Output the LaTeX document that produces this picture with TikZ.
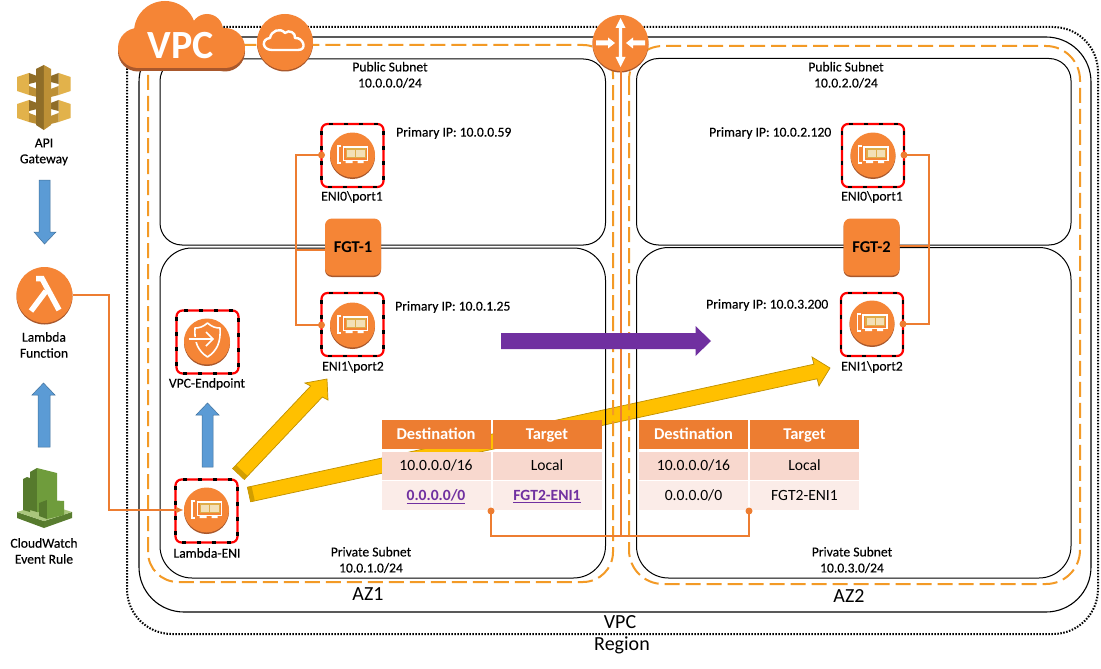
\documentclass[tikz,border=0pt]{standalone}
\usepackage{fontspec}
\setmainfont{Carlito}
\newfontfamily\lblfont[FakeBold=0.25]{Carlito}
\usetikzlibrary{calc,arrows.meta}
\definecolor{body}{HTML}{F58536}
\definecolor{lip}{HTML}{A9582C}
\definecolor{wirec}{HTML}{ED7D31}
\definecolor{azc}{HTML}{F39A26}
\definecolor{rowa}{HTML}{F8D8CE}
\definecolor{rowb}{HTML}{FBECE8}
\definecolor{bluea}{HTML}{5B9BD5}
\definecolor{blueb}{HTML}{41719C}
\definecolor{yel}{HTML}{FFC000}
\definecolor{yeld}{HTML}{BF9000}
\definecolor{purp}{HTML}{7030A0}
\definecolor{goldl}{HTML}{E2B24B}
\definecolor{goldm}{HTML}{BD9036}
\definecolor{goldd}{HTML}{8F6D28}
\definecolor{grl}{HTML}{AAC67C}
\definecolor{grm}{HTML}{6F9C3C}
\definecolor{grd}{HTML}{567A2D}
\newcommand\cloudfill[1]{%
  \fill[#1] (138,48) circle (20);
  \fill[#1] (165,32) circle (31);
  \fill[#1] (207,30) circle (16);
  \fill[#1] (225,48) circle (20);
  \fill[#1] (138,30) rectangle (225,68);
}
\tikzset{
  x=1pt,y=-1pt,
  regionline/.style={black,line width=2pt,dash pattern=on 1.5pt off 1.5pt,rounded corners=45pt},
  vpcline/.style={black,line width=1.1pt,rounded corners=45pt},
  subnetline/.style={black,line width=1pt},
  azline/.style={azc,line width=2pt,dash pattern=on 15pt off 6pt},
  wire/.style={wirec,line width=2pt,line join=miter},
  dotn/.style={circle,fill=wirec,inner sep=0pt,minimum size=7pt},
  nicbox/.style={draw=red,line width=2.2pt,rounded corners=6pt,minimum width=62pt,minimum height=63pt,inner sep=0pt,fill=white,
     postaction={draw=black,dash pattern=on 4pt off 11pt}},
  circ/.style={circle,fill=body,inner sep=0pt,minimum size=#1,
     preaction={fill=lip,transform canvas={yshift=-1.5pt}}},
  fgtbox/.style={rounded corners=7pt,fill=body,minimum width=56pt,minimum height=57pt,inner sep=0pt,font=\fontsize{16.5}{16.5}\selectfont\bfseries,
     preaction={fill=lip,transform canvas={yshift=-1.5pt}}},
  lbl/.style={inner sep=0pt,align=center,font=\lblfont\fontsize{13.6}{16}\selectfont},
  iplbl/.style={inner sep=0pt,anchor=west,font=\lblfont\fontsize{13.6}{16}\selectfont},
  biglbl/.style={inner sep=0pt,font=\fontsize{20}{20}\selectfont},
  cellh/.style={fill=wirec,text=white,minimum width=109pt,minimum height=28.5pt,inner sep=0pt,text height=13pt,text depth=2.5pt,font=\fontsize{16.5}{16.5}\selectfont\bfseries},
  cella/.style={fill=rowa,minimum width=109pt,minimum height=28pt,inner sep=0pt,text height=13pt,text depth=2.5pt,font=\fontsize{15.6}{15.6}\selectfont},
  cellb/.style={fill=rowb,minimum width=109pt,minimum height=29pt,inner sep=0pt,text height=13pt,text depth=2.5pt,font=\fontsize{15.6}{15.6}\selectfont},
  bluearrow/.style={fill=bluea,draw=blueb,line width=.5pt},
  yelarrow/.style={fill=yel,draw=yeld,line width=.7pt,line join=miter},
  nicicon/.pic={
    \draw[white,line width=1.2pt] (-11.5,-9) -- (-14.5,-9) -- (-14.5,8) -- (-11.5,8);
    \draw[white,line width=1.2pt] (-9,-8) rectangle (15,5.5);
    \fill[white] (-7,5.5) rectangle (0,8) (5,5.5) rectangle (11,8);
    \draw[goldl!90!brown,fill=goldl!40!white,line width=1.2pt] (-6,-6) rectangle (12.7,2.3);
    \draw[goldl!90!brown,line width=1.2pt] (3.3,-6) -- (3.3,2.3);
  },
  gatepart/.pic={
    \fill[goldl] (17,77) -- (29,73) -- (29,95) -- (17,91) -- cycle;
    \fill[goldd] (29,73) -- (37,76) -- (37,82) -- (29,84) -- cycle;
    \fill[goldm] (29,86) -- (37,89) -- (37,97) -- (29,95) -- cycle;
  }
}
\begin{document}
\begin{tikzpicture}
\useasboundingbox (0,0) rectangle (1101,669);
\fill[white] (0,0) rectangle (1101,669);
% yellow arrows (under outlines)
\draw[yelarrow] (232.7,468.5) -- (310.7,386) -- (305,383) -- (327,379) -- (328,400) -- (322.3,397) -- (244.3,479.5) -- cycle;
\fill[yeld!70!yel] (232.7,468.5) -- (236,465) -- (247.6,476) -- (244.3,479.5) -- cycle;
\draw[yelarrow] (247.4,487.2) -- (813.9,364.2) -- (812,357) -- (830,368) -- (819,386) -- (817.1,378.8) -- (250.6,501.8) -- cycle;
\fill[yeld!70!yel] (247.4,487.2) -- (251.6,486.3) -- (254.8,500.9) -- (250.6,501.8) -- cycle;
% containers
\draw[regionline] (127,27) rectangle (1098,634);
\draw[vpcline] (139,37) rectangle (1091,612);
\draw[subnetline,rounded corners=22pt] (160,59) rectangle (605.5,245);
\draw[subnetline,rounded corners=22pt] (636.5,58.5) rectangle (1071,245);
\draw[subnetline,rounded corners=32pt] (160,248) rectangle (605.5,578);
\draw[subnetline,rounded corners=32pt] (636.5,247.5) rectangle (1071,578);
\draw[azline,rounded corners=30pt] (148,45) rectangle (613,582);
\draw[azline,rounded corners=34pt] (629,46) rectangle (1080,584);
% VPC cloud
\begin{scope}[yshift=-3.5pt]
\cloudfill{lip}
\end{scope}
\cloudfill{body}
\node[inner sep=0pt,text=white,font=\fontsize{40}{40}\selectfont\bfseries] (vpcword) at (181,46) {VPC};
% IGW
\node[circ=56pt] (igw) at (285,42) {};
\draw[white,line width=2.4pt,line join=round] (272,50) .. controls (262,50) and (261,39) .. (270,38) .. controls (271,31) and (280,27) .. (285,33) .. controls (289,29) and (296,33) .. (295,38) .. controls (303,37) and (308,50) .. (298,50) -- cycle;
% router
\node[circ=56pt] (router) at (620.5,43) {};
\fill[white] (620.5,18) -- (625.5,28) -- (622.2,28) -- (622.2,57) -- (625.5,57) -- (620.5,67) -- (615.5,57) -- (618.8,57) -- (618.8,28) -- (615.5,28) -- cycle;
\fill[white] (596,40.5) -- (608,40.5) -- (608,37.5) -- (615,43) -- (608,48.5) -- (608,45.5) -- (596,45.5) -- cycle;
\fill[white] (645,40.5) -- (633,40.5) -- (633,37.5) -- (626,43) -- (633,48.5) -- (633,45.5) -- (645,45.5) -- cycle;
% tables
\node[cellh] (ha) at (436,434.5) {Destination};
\node[cellh] (hb) at (547,434.5) {Target};
\node[cella] (ra) at (436,465.5) {10.0.0.0/16};
\node[cella] (rb) at (547,465.5) {Local};
\node[cellb] (sa) at (436,495.5) {\textcolor{purp}{\bfseries\underline{0.0.0.0/0}}};
\node[cellb] (sb) at (547,495.5) {\textcolor{purp}{\bfseries\underline{FGT2-ENI1}}};
\node[cellh] (hc) at (693.5,434.5) {Destination};
\node[cellh] (hd) at (804.5,434.5) {Target};
\node[cella] (rc) at (693.5,465.5) {10.0.0.0/16};
\node[cella] (rd) at (804.5,465.5) {Local};
\node[cellb] (sc) at (693.5,495.5) {0.0.0.0/0};
\node[cellb] (sd) at (804.5,495.5) {FGT2-ENI1};
% NIC boxes
\node[nicbox] (eni0a) at (352.5,155.5) {};
\node[nicbox] (eni1a) at (352.5,324.5) {};
\node[nicbox] (vpce) at (207.5,342) {};
\node[nicbox] (leni) at (206.5,511) {};
\node[nicbox] (eni0b) at (873,155.5) {};
\node[nicbox] (eni1b) at (872,324.5) {};
\node[circ=45pt] (c0a) at (352.5,155) {};
\node[circ=45pt] (c1a) at (352.5,325) {};
\node[circ=46pt] (cve) at (207,341.5) {};
\node[circ=45pt] (cle) at (206.5,510) {};
\node[circ=45pt] (c0b) at (873,155) {};
\node[circ=45pt] (c1b) at (872,323) {};
\path (c0a) pic {nicicon} (c1a) pic {nicicon} (cle) pic {nicicon} (c0b) pic {nicicon} (c1b) pic {nicicon};
% shield
\draw[white,line width=1.6pt,line join=round] (207.5,323) .. controls (203,327) and (199,328) .. (195,328) .. controls (194,342) and (198,351) .. (207.5,357) .. controls (217,351) and (221,342) .. (220,328) .. controls (216,328) and (212,327) .. (207.5,323) -- cycle;
\fill[body] (188,336.5) rectangle (216,341.5);
\draw[white,line width=1.6pt] (189,339) -- (212,339);
\draw[white,line width=1.6pt] (206,332) -- (213,339) -- (206,346);
% FGT
\node[fgtbox] (fgta) at (353,247) {FGT-1};
\node[fgtbox] (fgtb) at (871.5,247) {FGT-2};
% wires
\node[dotn] (da0) at (321.5,155) {};
\node[dotn] (da1) at (321.5,325) {};
\node[dotn] (db0) at (904,155) {};
\node[dotn] (db1) at (903,324) {};
\node[dotn] (ta) at (491,511) {};
\node[dotn] (tb) at (749,511) {};
\coordinate (wa) at (296,250);
\coordinate (wb) at (929,246);
\coordinate (wm) at (620.5,535.5);
\draw[wire] (da0.center) -| (wa) |- (da1.center);
\draw[wire] (fgta.west |- wa) -- (wa);
\draw[wire] (db0.center) -| (wb) |- (db1.center);
\draw[wire] (fgtb.east |- wb) -- (wb);
\draw[wire] (ta.center) |- (tb |- wm) -- (tb.center);
\draw[wire] (router.south) -- (wm);
% lambda
\node[circ=56pt] (lam) at (44.5,295) {};
\draw[white,line width=5.5pt,line join=miter] (36,278.5) -- (42,278.5) -- (59,310);
\draw[white,line width=5.5pt] (46,291) -- (31,311);
\draw[wire,-{Latex[length=8pt,width=7pt]}] (lam.east) -- ++(36,0) |- (cle.west);
% side icons
\path (0,0) pic {gatepart} (0,27) pic {gatepart};
\begin{scope}[xshift=87.6pt,xscale=-1]
\path (0,0) pic[transform shape] {gatepart} (0,27) pic[transform shape] {gatepart};
\end{scope}
\fill[goldd] (43.8,65) -- (36,69) -- (36,125) -- (43.8,130) -- cycle;
\fill[goldm] (43.8,65) -- (51,69) -- (51,125) -- (43.8,130) -- cycle;
% cloudwatch
\fill[grd] (17,512) -- (44,521) -- (44,528) -- (17,518) -- cycle;
\fill[grm!80!black] (72,512) -- (44,521) -- (44,528) -- (72,518) -- cycle;
\fill[grl] (17,512) -- (40,505) -- (50,505) -- (72,512) -- (44,521) -- cycle;
\fill[grd] (23,479) -- (27,477) -- (30,478) -- (30,512) -- (23,510) -- cycle;
\fill[grd] (30,472) -- (37,468) -- (37,512) -- (30,510) -- cycle;
\fill[grm] (37,468) -- (57,473) -- (57,512) -- (37,512) -- cycle;
\fill[grd] (39,503) -- (47,500) -- (47,519) -- (39,516) -- cycle;
\fill[grm] (47,500) -- (64,501) -- (64,515) -- (47,519) -- cycle;
% blue arrows
\draw[bluearrow] (39,180) -- (50,180) -- (50,232) -- (56,232) -- (44.5,244) -- (34,232) -- (39,232) -- cycle;
\draw[bluearrow] (38,447) -- (50,447) -- (50,395) -- (55,395) -- (43.5,383) -- (32,395) -- (38,395) -- cycle;
\draw[bluearrow] (202,467) -- (213,467) -- (213,415) -- (219,415) -- (207.5,403) -- (196,415) -- (202,415) -- cycle;
% purple
\fill[purp] (501,333) -- (695.5,333) -- (695.5,326) -- (711,341) -- (695.5,356) -- (695.5,349) -- (501,349) -- cycle;
% labels
\node[lbl] (t1) at (44,152) {API\\Gateway};
\node[lbl] (t2) at (44,345) {Lambda\\Function};
\node[lbl] (t3) at (44,551) {CloudWatch\\Event Rule};
\node[lbl] (t4) at (390,75) {Public Subnet\\10.0.0.0/24};
\node[lbl] (t5) at (846,75) {Public Subnet\\10.0.2.0/24};
\node[lbl] (t6) at (371,560) {Private Subnet\\10.0.1.0/24};
\node[lbl] (t7) at (852,560) {Private Subnet\\10.0.3.0/24};
\node[lbl] (t8) at (352,197) {ENI0\textbackslash port1};
\node[lbl] (t9) at (353,367) {ENI1\textbackslash port2};
\node[lbl] (t10) at (872,197) {ENI0\textbackslash port1};
\node[lbl] (t11) at (872,367) {ENI1\textbackslash port2};
\node[lbl] (t12) at (207,384) {VPC-Endpoint};
\node[lbl] (t13) at (207,553) {Lambda-ENI};
\node[iplbl] (ip1) at (396,133) {Primary IP: 10.0.0.59};
\node[iplbl] (ip2) at (395,307) {Primary IP: 10.0.1.25};
\node[iplbl] (ip3) at (709,133) {Primary IP: 10.0.2.120};
\node[iplbl] (ip4) at (706,305) {Primary IP: 10.0.3.200};
\node[biglbl] (az1) at (368,594) {AZ1};
\node[biglbl] (az2) at (849,596) {AZ2};
\node[biglbl] (vpct) at (620,622) {VPC};
\node[biglbl] (reg) at (622,645) {Region};
\end{tikzpicture}
\end{document}
